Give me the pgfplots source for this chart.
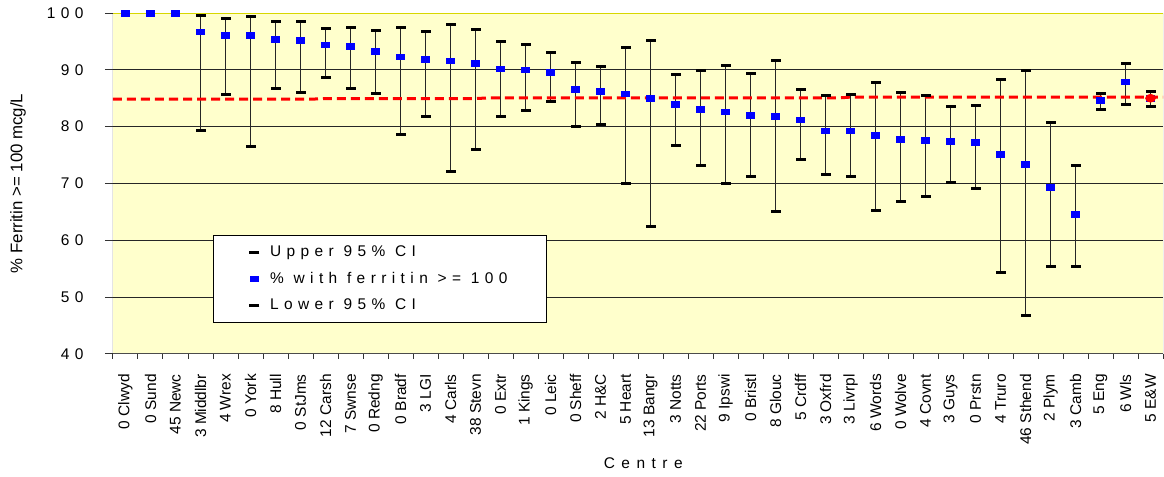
\documentclass[border=0pt]{standalone}
\usepackage{pgfplots}
\pgfplotsset{compat=1.18}
\usepackage{pgfplotstable}
\usetikzlibrary{calc}
\usepackage{fontspec}
\setmainfont{Liberation Sans}
\newfontfamily\spaced[LetterSpace=35]{Liberation Sans}
\newfontfamily\spacedc[LetterSpace=42]{Liberation Sans}
\newcommand\tfont{\fontsize{11.6pt}{13.9pt}\selectfont}
\definecolor{bgy}{RGB}{255,255,204}
\definecolor{topy}{RGB}{215,215,0}

\pgfplotstableread{
x lo mean hi
0 nan 100 nan
1 nan 100 nan
2 nan 100 nan
3 79.3 96.7 99.6
4 85.6 96.1 99.0
5 76.5 96.1 99.4
6 86.8 95.4 98.5
7 86.0 95.2 98.5
8 88.7 94.4 97.3
9 86.8 94.1 97.5
10 85.8 93.3 96.9
11 78.6 92.3 97.5
12 81.8 91.8 96.7
13 72.1 91.6 97.9
14 75.9 91.2 97.1
15 81.8 90.2 95.0
16 82.9 90.0 94.4
17 84.5 89.6 93.1
18 80.0 86.6 91.3
19 80.3 86.2 90.6
20 70.0 85.8 93.9
21 62.4 85.0 95.2
22 76.7 83.9 89.1
23 73.2 83.0 89.8
24 70.0 82.6 90.8
25 71.3 82.0 89.4
26 65.0 81.8 91.7
27 74.2 81.2 86.6
28 71.5 79.3 85.4
29 71.3 79.3 85.6
30 65.2 78.5 87.7
31 66.9 77.8 86.0
32 67.7 77.6 85.4
33 70.1 77.4 83.5
34 69.2 77.2 83.8
35 54.3 75.1 88.3
36 46.7 73.4 89.8
37 55.4 69.4 80.8
38 55.4 64.6 73.1
39 83.1 84.6 85.8
40 83.9 87.9 91.1
41 83.5 85.0 86.2
}\data

\pgfplotstableread{
x y
-0.5 84.85
7.5 84.85
8 84.95
14 84.95
14.5 85.05
28.5 85.05
29 85.2
41.5 85.2
}\redline

\begin{document}
\begin{tikzpicture}
\begin{axis}[
  name=ax,
  scale only axis, width=787.5pt, height=255.75pt,
  xmin=-0.5, xmax=41.5, ymin=40, ymax=100,
  axis background/.style={fill=bgy},
  axis line style={draw=none},
  xtick={0,...,41},
  xticklabels={0 Clwyd, 0 Sund, 45 Newc, 3 Middlbr, 4 Wrex, 0 York, 8 Hull, 0 StJms, 12 Carsh, 7 Swnse, 0 Redng, 0 Bradf, 3 LGI, 4 Carls, 38 Stevn, 0 Extr, 1 Kings, 0 Leic, 0 Sheff, 2 H\&C, 5 Heart, 13 Bangr, 3 Notts, 22 Ports, 9 Ipswi, 0 Bristl, 8 Glouc, 5 Crdff, 3 Oxfrd, 3 Livrpl, 6 Words, 0 Wolve, 4 Covnt, 3 Guys, 0 Prstn, 4 Truro, 46 Sthend, 2 Plym, 3 Camb, 5 Eng, 6 Wls, 5 E\&W},
  minor xtick={-0.5,0.5,...,41.5},
  ytick={40,50,...,100},
  xtick pos=bottom, ytick pos=left,
  tick align=outside,
  major tick length=6pt, minor tick length=3.75pt,
  major x tick style={draw=none},
  every tick/.style={black!80, line width=0.75pt},
  ymajorgrids,
  grid style={black!85, line width=0.75pt},
  xticklabel style={rotate=90, anchor=east, inner sep=0pt, font=\tfont},
  xticklabel shift=9pt,
  /pgf/number format/assume math mode=true,
  yticklabel style={anchor=east, inner sep=0pt, font=\spaced\tfont},
  yticklabel shift=16pt,
  xlabel={Centre},
  every axis x label/.style={at={(axis description cs:0.505,-0.32)}, anchor=center, font=\spacedc\tfont},
  ylabel={\% Ferritin >= 100 mcg/L},
  every axis y label/.style={at={(axis description cs:-0.0905,0.5)}, rotate=90, anchor=center, font=\fontsize{12.6pt}{15pt}\selectfont},
  legend style={at={(axis description cs:0.0952,0.349)}, anchor=north west,
    draw=black, line width=0.75pt, fill=white, font=\spaced\tfont,
    inner xsep=27pt, inner ysep=5.75pt, row sep=6.25pt, column sep=6pt, nodes={inner sep=2pt}},
  legend cell align=left,
]
\draw[topy, line width=0.9pt] (rel axis cs:0,1) -- (rel axis cs:1,1);
\draw[black!50, line width=0.75pt] (rel axis cs:1,0) -- (rel axis cs:1,1);
\draw[black!70, line width=0.75pt] (rel axis cs:0,0) -- (rel axis cs:1,0);
\draw[black!85, line width=0.75pt] (rel axis cs:0,0) -- (rel axis cs:0,1);

\addplot[draw=none, forget plot,
  error bars/.cd, y dir=minus, y explicit, error mark=none,
  error bar style={draw=black!85, line width=0.75pt}]
  table[x=x, y=hi, y error expr=\thisrow{hi}-\thisrow{lo}] {\data};

\addplot[red, line width=2.25pt, dash pattern=on 6.75pt off 3.75pt, forget plot]
  table[x=x, y=y] {\redline};

\addplot[only marks, mark=-, mark size=3.75pt, mark options={black, line width=2.25pt}]
  table[x=x, y=hi] {\data};
\addlegendentry{Upper 95\% CI}

\addplot[only marks, mark=square*, mark size=2.15pt, mark options={draw=blue, fill=blue, xscale=1.45}]
  table[x=x, y=mean] {\data};
\addlegendentry{\% with ferritin >= 100}

\addplot[only marks, mark=-, mark size=3.75pt, mark options={black, line width=2.25pt}]
  table[x=x, y=lo] {\data};
\addlegendentry{Lower 95\% CI}

\addplot[only marks, mark=*, mark size=3.75pt, mark options={draw=red, fill=red, yscale=0.8}, forget plot]
  coordinates {(41,85.0)};
\end{axis}
\pgfresetboundingbox
\path ($(ax.south west)+(-84.75pt,-92.25pt)$) rectangle ($(ax.north east)+(0.75pt,9.75pt)$);
\end{tikzpicture}
\end{document}
